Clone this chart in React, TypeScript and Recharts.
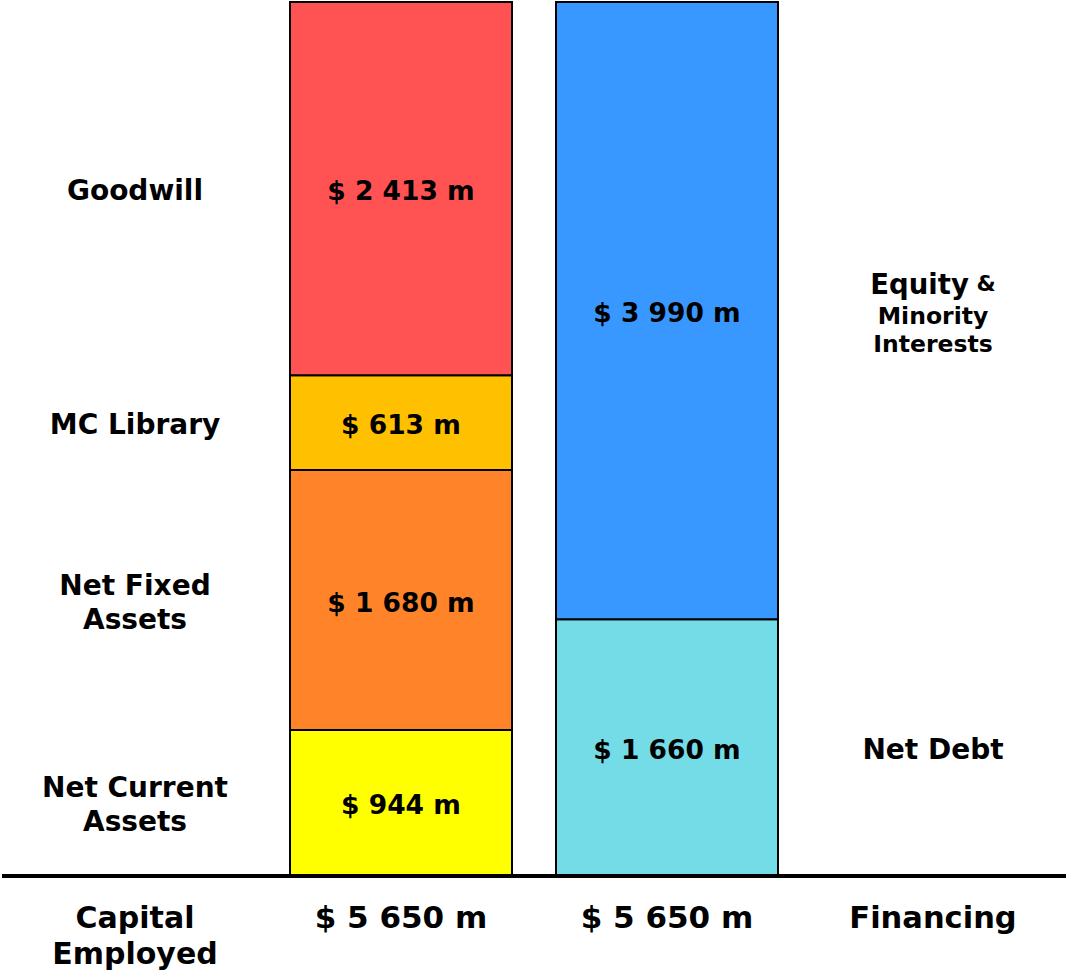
import React from "react";
import { BarChart, Bar, XAxis, YAxis, LabelList } from "recharts";

// ---- data ----
const categoryKeys = ["capital", "assets", "financing", "financingLabel"];
const tickLabels = [["Capital", "Employed"], ["$ 5 650 m"], ["$ 5 650 m"], ["Financing"]];

const assetKeys = ["nca", "nfa", "mcl", "gw"];
const assetNameLines = [["Net Current", "Assets"], ["Net Fixed", "Assets"], ["MC Library"], ["Goodwill"]];
const assetValues = [944, 1680, 613, 2413];

const financeKeys = ["debt", "equity"];
const financeNameLines = [["Net Debt"], ["Equity &", "Minority", "Interests"]];
const financeValues = [1660, 3990];

const total = 5650;

// ---- styles ----
const assetColors = ["#FFFF00", "#FF8429", "#FFC000", "#FF5252"];
const financeColors = ["#74DCE6", "#3898FF"];
const FONT = "'DejaVu Sans', Verdana, sans-serif";
const BAND = 266;

const rows = categoryKeys.map((k) => ({ cat: k } as Record<string, any>));
assetKeys.forEach((k, i) => (rows[1][k] = assetValues[i]));
financeKeys.forEach((k, i) => (rows[2][k] = financeValues[i]));

const fmt = (v: number) => "$ " + String(v).replace(/\B(?=(\d{3})+(?!\d))/g, " ") + " m";

function makeLabel(lines: string[], nameOffset: number) {
  return (props: any) => {
    const vb = props.viewBox && props.viewBox.width != null ? props.viewBox : props;
    const { x, y, width, height } = vb;
    const value = props.value;
    if (value == null || !height) return null;
    const cx = x + width / 2;
    const cy = y + height / 2 + 2;
    const nx = cx + nameOffset;
    let nameEl: React.ReactNode;
    if (lines.length === 3) {
      const first = lines[0].split(" ");
      nameEl = (
        <text x={nx} textAnchor="middle" fontFamily={FONT} fontWeight="bold" fill="#000">
          <tspan x={nx} y={cy - 29} dominantBaseline="central" fontSize={27.5}>
            {first[0]}
            <tspan fontSize={22}>{" " + first.slice(1).join(" ")}</tspan>
          </tspan>
          <tspan x={nx} y={cy + 3} dominantBaseline="central" fontSize={23.5}>{lines[1]}</tspan>
          <tspan x={nx} y={cy + 31} dominantBaseline="central" fontSize={23.5}>{lines[2]}</tspan>
        </text>
      );
    } else {
      const lh = 34;
      const start = cy - ((lines.length - 1) * lh) / 2;
      nameEl = (
        <text x={nx} textAnchor="middle" fontFamily={FONT} fontWeight="bold" fontSize={28} fill="#000">
          {lines.map((l, i) => (
            <tspan key={i} x={nx} y={start + i * lh} dominantBaseline="central">{l}</tspan>
          ))}
        </text>
      );
    }
    return (
      <g>
        <text x={cx} y={cy} textAnchor="middle" dominantBaseline="central" fontFamily={FONT} fontWeight="bold" fontSize={26.5} fill="#000">
          {fmt(value)}
        </text>
        {nameEl}
      </g>
    );
  };
}

const Tick = (props: any) => {
  const { x, y, index } = props;
  const lines = tickLabels[index] || [];
  const size = index === 0 ? 30 : index === 3 ? 30.5 : 31;
  return (
    <text x={x} textAnchor="middle" fontFamily={FONT} fontWeight="bold" fontSize={size} fill="#000">
      {lines.map((l, i) => (
        <tspan key={i} x={x} y={y + 33 + i * 36} dominantBaseline="central">{l}</tspan>
      ))}
    </text>
  );
};

export default function App() {
  return (
    <div style={{ position: "absolute", left: 0, top: 0, width: 1066, height: 970, background: "#fff" }}>
      <BarChart width={1066} height={970} data={rows} margin={{ top: 2, left: 2, right: 0, bottom: 0 }} barSize={222}>
        <XAxis
          dataKey="cat"
          height={94}
          axisLine={{ stroke: "#000", strokeWidth: 4 }}
          tickLine={false}
          interval={0}
          tick={<Tick />}
        />
        <YAxis hide domain={[0, total]} />
        {assetKeys.map((k, i) => (
          <Bar key={k} dataKey={k} stackId="s" fill={assetColors[i]} stroke="#000" strokeWidth={2} isAnimationActive={false}>
            <LabelList dataKey={k} content={makeLabel(assetNameLines[i], -BAND)} />
          </Bar>
        ))}
        {financeKeys.map((k, i) => (
          <Bar key={k} dataKey={k} stackId="s" fill={financeColors[i]} stroke="#000" strokeWidth={2} isAnimationActive={false}>
            <LabelList dataKey={k} content={makeLabel(financeNameLines[i], BAND)} />
          </Bar>
        ))}
      </BarChart>
    </div>
  );
}
